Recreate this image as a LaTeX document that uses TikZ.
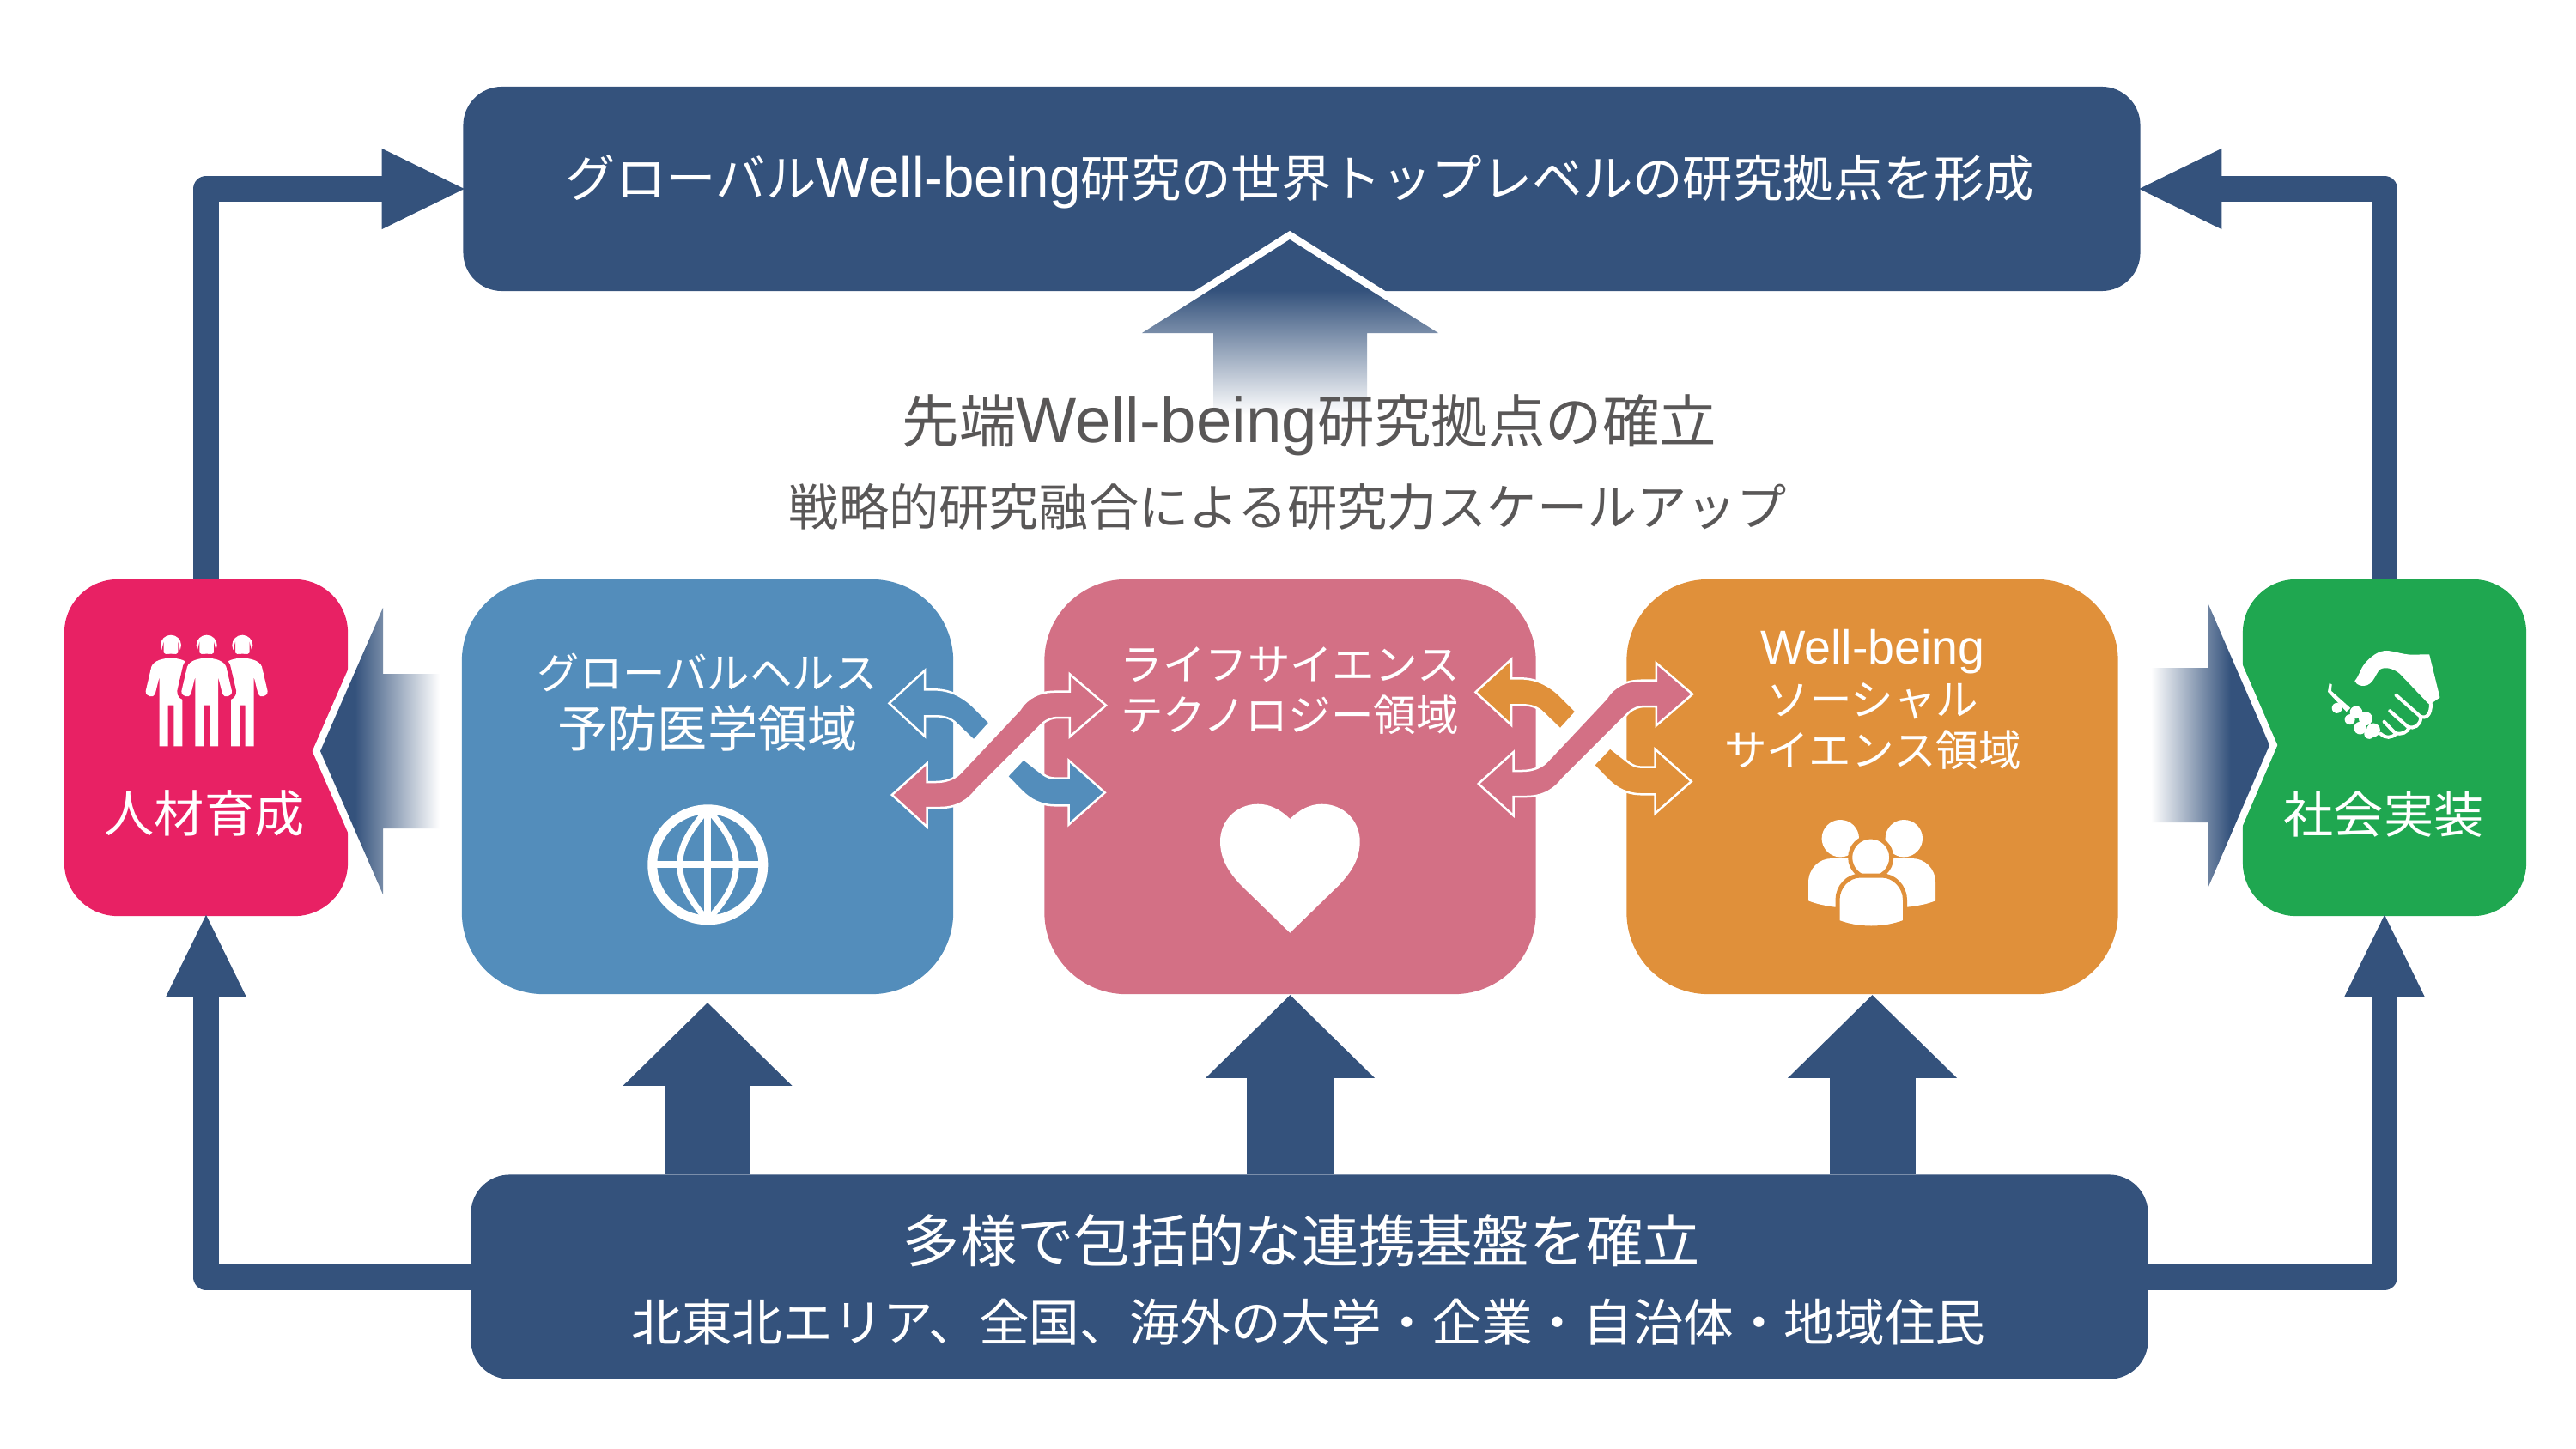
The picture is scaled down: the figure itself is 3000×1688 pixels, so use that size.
\documentclass[tikz,border=0pt]{standalone}
\usepackage{fontspec}
\usepackage{xcolor}
\usepackage{tikz}
\usetikzlibrary{arrows.meta,positioning,calc}

\newfontfamily\jpfont{Noto Sans CJK JP}
\newfontfamily\wellfont[Scale=1.12]{Liberation Sans}
\newcommand{\wellbeing}{{\wellfont Well-being}}

\definecolor{navyblock}{HTML}{34527C}
\definecolor{healthblue}{HTML}{538DBB}
\definecolor{lifepink}{HTML}{D37085}
\definecolor{socialorange}{HTML}{E0903A}
\definecolor{talentred}{HTML}{E82164}
\definecolor{practicegreen}{HTML}{1FA750}
\definecolor{headgrey}{HTML}{595757}

\pgfdeclarehorizontalshading{fadeleft}{100bp}{color(0bp)=(navyblock); color(39.5bp)=(navyblock); color(75bp)=(white); color(100bp)=(white)}
\pgfdeclarehorizontalshading{faderight}{100bp}{color(0bp)=(white); color(25bp)=(white); color(58.5bp)=(navyblock); color(100bp)=(navyblock)}
\pgfdeclareverticalshading{fadeup}{100bp}{color(0bp)=(white); color(25bp)=(white); color(60.5bp)=(navyblock); color(100bp)=(navyblock)}

\tikzset{
  widebox/.style={fill=navyblock, rounded corners=.45cm, minimum width=19.52cm, minimum height=2.38cm, inner sep=0pt},
  sidebox/.style={fill=#1, rounded corners=.62cm, minimum width=3.3cm, minimum height=3.92cm, inner sep=0pt},
  fieldbox/.style={fill=#1, rounded corners=.95cm, minimum width=5.72cm, minimum height=4.83cm, inner sep=0pt},
  looparrow/.style={draw=navyblock, line width=.3cm, line join=round, shorten >=-.05cm, -{Triangle[length=.99cm,width=.86cm]}},
  feedarrow/.style={draw=navyblock, line width=1cm, -{Triangle[length=.97cm,width=1.91cm]}},
  whiteedge/.style={preaction={draw=white, line width=.17cm, line join=miter}},
  crossarrow/.style={fill=#1, draw=white, line width=.025cm, line join=miter},
  whitetext/.style={text=white, align=center, inner sep=0pt, font=\jpfont\fontsize{16.55}{19.35}\selectfont},
  fieldtext/.style={text=white, align=center, inner sep=0pt, font=\jpfont\fontsize{14.1}{16.8}\selectfont},
  greytext/.style={text=headgrey, inner sep=0pt},
  person/.pic={
    \fill[white] (0,0) circle (12);
    \fill[white, preaction={draw=talentred, line width=.1cm}] (-13.3,117.6) -- (-13.3,36.6) -- (-18.3,56.6) .. controls (-20,62) and (-30,60) .. (-29.3,53.3) -- (-22.7,25) .. controls (-20,18) and (-10,15) .. (0,15) .. controls (10,15) and (20,18) .. (22.7,25) -- (29.3,53.3) .. controls (30,60) and (20,62) .. (18.3,56.6) -- (13.3,36.6) -- (13.3,117.6) -- (3.3,117.6) -- (3.3,70) -- (-3.3,70) -- (-3.3,117.6) -- cycle;
  }
}

\begin{document}
\begin{tikzpicture}[x=.01cm, y=-.01cm]
  \useasboundingbox (0,0) rectangle (3000,1688);

  % Boxes
  \node[widebox] (topbox) at (1516,220) {};
  \node[widebox] (bottombox) at (1525,1487.5) {};
  \node[sidebox=talentred] (talentbox) at (240,871) {};
  \node[sidebox=practicegreen] (practicebox) at (2777,871) {};
  \node[fieldbox=healthblue] (healthbox) at (824,916.5) {};
  \node[fieldbox=lifepink] (lifebox) at (1502.5,916.5) {};
  \node[fieldbox=socialorange] (socialbox) at (2180.5,916.5) {};

  % Outer loop
  \draw[looparrow] (talentbox.north) |- (topbox.west);
  \draw[looparrow] (practicebox.north) |- (topbox.east);
  \draw[looparrow] (bottombox.west) -| (talentbox.south);
  \draw[looparrow] (bottombox.east) -| (practicebox.south);

  % Arrows from the base
  \draw[feedarrow, shorten >=.09cm] (bottombox.north -| healthbox.south) -- (healthbox.south);
  \draw[feedarrow] (bottombox.north -| lifebox.south) -- (lifebox.south);
  \draw[feedarrow] (bottombox.north -| socialbox.south) -- (socialbox.south);

  % Fading arrows
  \shade[shading=fadeleft, whiteedge] (373,875) -- (446,708) -- (446,785) -- (512,785) -- (512,965) -- (446,965) -- (446,1042) -- cycle;
  \shade[shading=faderight, whiteedge] (2643,868) -- (2571,702) -- (2571,778) -- (2505,778) -- (2505,958) -- (2571,958) -- (2571,1035) -- cycle;
  \shade[shading=fadeup, whiteedge] (1502,279) -- (1675,388) -- (1592,388) -- (1592,483) -- (1413,483) -- (1413,388) -- (1330,388) -- cycle;

  % Crossing arrows, left pair
  \path[crossarrow=healthblue] (1035.5,819.3) -- (1077,781) -- (1077,803.3) -- (1087,803.3) .. controls (1105,803.3) and (1120,810) .. (1134,823.3) -- (1152.7,842) -- (1134,862.7) -- (1114,843.3) .. controls (1108,837) and (1100,834.3) .. (1090,834.3) -- (1077,834.3) -- (1077,857.7) -- cycle;
  \path[crossarrow=healthblue] (1192,884) -- (1214.3,901.7) .. controls (1219,905) and (1223,906.7) .. (1230,906.7) -- (1244.5,906.7) -- (1244.5,885.7) -- (1286.7,923.3) -- (1244.5,960.7) -- (1244.5,938.3) -- (1230,938.3) .. controls (1212,938.3) and (1200,932) .. (1189,921) -- (1172.8,904.3) -- cycle;
  \path[crossarrow=lifepink] (1288,821.7) -- (1245.8,785.3) -- (1245.8,805.7) -- (1230,805.7) .. controls (1210,805.7) and (1197,812) .. (1187.5,826.7) -- (1117,901.7) .. controls (1110,908) and (1100,911) .. (1090,911) -- (1079.7,911) -- (1079.7,889) -- (1038.8,926) -- (1079.7,963.3) -- (1079.7,941) -- (1095,941) .. controls (1115,941) and (1128,932) .. (1137,920) -- (1214,843) .. controls (1220,838) and (1226,836) .. (1232,836) -- (1245.8,836) -- (1245.8,858.3) -- cycle;

  % Crossing arrows, right pair
  \begin{scope}[shift={(683,-13)}]
    \path[crossarrow=socialorange] (1035.5,819.3) -- (1077,781) -- (1077,803.3) -- (1087,803.3) .. controls (1105,803.3) and (1120,810) .. (1134,823.3) -- (1152.7,842) -- (1134,862.7) -- (1114,843.3) .. controls (1108,837) and (1100,834.3) .. (1090,834.3) -- (1077,834.3) -- (1077,857.7) -- cycle;
    \path[crossarrow=socialorange] (1192,884) -- (1214.3,901.7) .. controls (1219,905) and (1223,906.7) .. (1230,906.7) -- (1244.5,906.7) -- (1244.5,885.7) -- (1286.7,923.3) -- (1244.5,960.7) -- (1244.5,938.3) -- (1230,938.3) .. controls (1212,938.3) and (1200,932) .. (1189,921) -- (1172.8,904.3) -- cycle;
    \path[crossarrow=lifepink] (1288,821.7) -- (1245.8,785.3) -- (1245.8,805.7) -- (1230,805.7) .. controls (1210,805.7) and (1197,812) .. (1187.5,826.7) -- (1117,901.7) .. controls (1110,908) and (1100,911) .. (1090,911) -- (1079.7,911) -- (1079.7,889) -- (1038.8,926) -- (1079.7,963.3) -- (1079.7,941) -- (1095,941) .. controls (1115,941) and (1128,932) .. (1137,920) -- (1214,843) .. controls (1220,838) and (1226,836) .. (1232,836) -- (1245.8,836) -- (1245.8,858.3) -- cycle;
  \end{scope}

  % Globe
  \draw[white, line width=.11cm] (824.3,1007.3) circle (64.5);
  \draw[white, line width=.08cm] (824.3,943) -- (824.3,1071);
  \draw[white, line width=.08cm] (760,1007.3) -- (888,1007.3);
  \draw[white, line width=.07cm] (822,945) .. controls (805,965) and (791.7,985) .. (791.7,1007.3) .. controls (791.7,1030) and (805,1050) .. (822,1070);
  \draw[white, line width=.07cm] (826,945) .. controls (844,965) and (857.3,985) .. (857.3,1007.3) .. controls (857.3,1030) and (844,1050) .. (826,1070);

  % Heart
  \fill[white] (1502.3,954) .. controls (1490,942) and (1478,936.7) .. (1465,936.7) .. controls (1440,936.7) and (1421,956) .. (1421,980) .. controls (1421,1000) and (1430,1015) .. (1445,1031) -- (1502.3,1086.7) -- (1559.6,1031) .. controls (1574.6,1015) and (1583.7,1000) .. (1583.7,980) .. controls (1583.7,956) and (1564.6,936.7) .. (1539.6,936.7) .. controls (1526.6,936.7) and (1514.6,942) .. cycle;

  % Group of people
  \fill[white] (2143.3,976.7) circle (21.7);
  \fill[white] (2217.3,976.7) circle (21.7);
  \fill[white] (2106,1049.3) -- (2106,1028.3) .. controls (2106,1011.7) and (2118.3,1000) .. (2133.3,1000) -- (2226.7,1000) .. controls (2241.7,1000) and (2254,1011.7) .. (2254,1028.3) -- (2254,1049.3) .. controls (2245,1053) and (2235,1055) .. (2221,1056.7) -- (2137,1056.7) .. controls (2125,1055) and (2115,1053) .. cycle;
  \draw[socialorange, line width=.05cm, fill=white] (2178.7,999) circle (24);
  \draw[socialorange, line width=.05cm, fill=white] (2140,1074) -- (2140,1048.3) .. controls (2140,1033) and (2152,1020) .. (2166.7,1020) -- (2191.7,1020) .. controls (2206,1020) and (2218.5,1033) .. (2218.5,1048.3) -- (2218.5,1074) .. controls (2205,1079) and (2192,1081) .. (2179,1081) .. controls (2166,1081) and (2153,1079) .. cycle;

  % People
  \pic at (199,751.7) {person};
  \pic at (282.3,751.7) {person};
  \pic at (240.7,751.7) {person};

  % Handshake
  \begin{scope}[shift={(2700,740)}, x=.00333cm, y=-.00333cm]
    \fill[white] (127,160) .. controls (145,140) and (145,115) .. (170,90) .. controls (195,65) and (220,50) .. (250,55) .. controls (280,60) and (300,68) .. (330,68) -- (388,67) -- (425,218) -- (398,237) -- (385,240) -- (285,135) .. controls (265,118) and (235,108) .. (215,120) .. controls (200,135) and (195,165) .. (170,175) .. controls (155,180) and (135,178) .. cycle;
    \draw[white, line width=.04cm, line cap=round] (272,210) -- (355,283) .. controls (375,295) and (395,280) .. (393,240);
    \draw[white, line width=.04cm, line cap=round] (250,265) -- (312,320) .. controls (335,330) and (355,315) .. (358,292);
    \draw[white, line width=.04cm, line cap=round] (230,303) -- (268,342) .. controls (290,350) and (312,340) .. (318,322);
    \draw[white, line width=.04cm, line cap=round] (218,345) .. controls (235,362) and (255,360) .. (272,345);
    \fill[white] (33,198) -- (38,168) -- (47,172) -- (45,195) -- (112,255) -- (98,268) -- cycle;
    \fill[white] (65,255) circle (18);
    \fill[white] (132,270) circle (22);
    \fill[white] (110,295) circle (18);
    \fill[white] (165,292) circle (24);
    \fill[white] (146,325) circle (22);
    \fill[white] (192,332) circle (24);
    \fill[white] (178,345) circle (18);
  \end{scope}

  % Texts
  \node[whitetext, font=\jpfont\fontsize{16.62}{19}\selectfont] (toptext) at (1514,212) {グローバル\wellbeing{}研究の世界トップレベルの研究拠点を形成};
  \node[greytext, font=\jpfont\fontsize{18.9}{23}\selectfont] (headtext) at (1525,495) {先端\wellbeing{}研究拠点の確立};
  \node[greytext, font=\jpfont\fontsize{16.55}{20}\selectfont] (subtext) at (1500,590) {戦略的研究融合による研究力スケールアップ};
  \node[whitetext] (healthtext) at (824,818) {{\fontsize{14.1}{19.35}\selectfont グローバルヘルス}\\予防医学領域};
  \node[fieldtext] (lifetext) at (1502,805) {ライフサイエンス\\テクノロジー領域};
  \node[fieldtext] (socialtext) at (2181,815) {\wellbeing\\ソーシャル\\サイエンス領域};
  \node[whitetext] (talenttext) at (238,948) {人材育成};
  \node[whitetext] (practicetext) at (2776,948) {社会実装};
  \node[whitetext, font=\jpfont\fontsize{18.85}{22}\selectfont] (basetext) at (1516,1445) {多様で包括的な連携基盤を確立};
  \node[whitetext, font=\jpfont\fontsize{16.67}{20}\selectfont] (basesubtext) at (1524,1540) {北東北エリア、全国、海外の大学・企業・自治体・地域住民};

\end{tikzpicture}
\end{document}
